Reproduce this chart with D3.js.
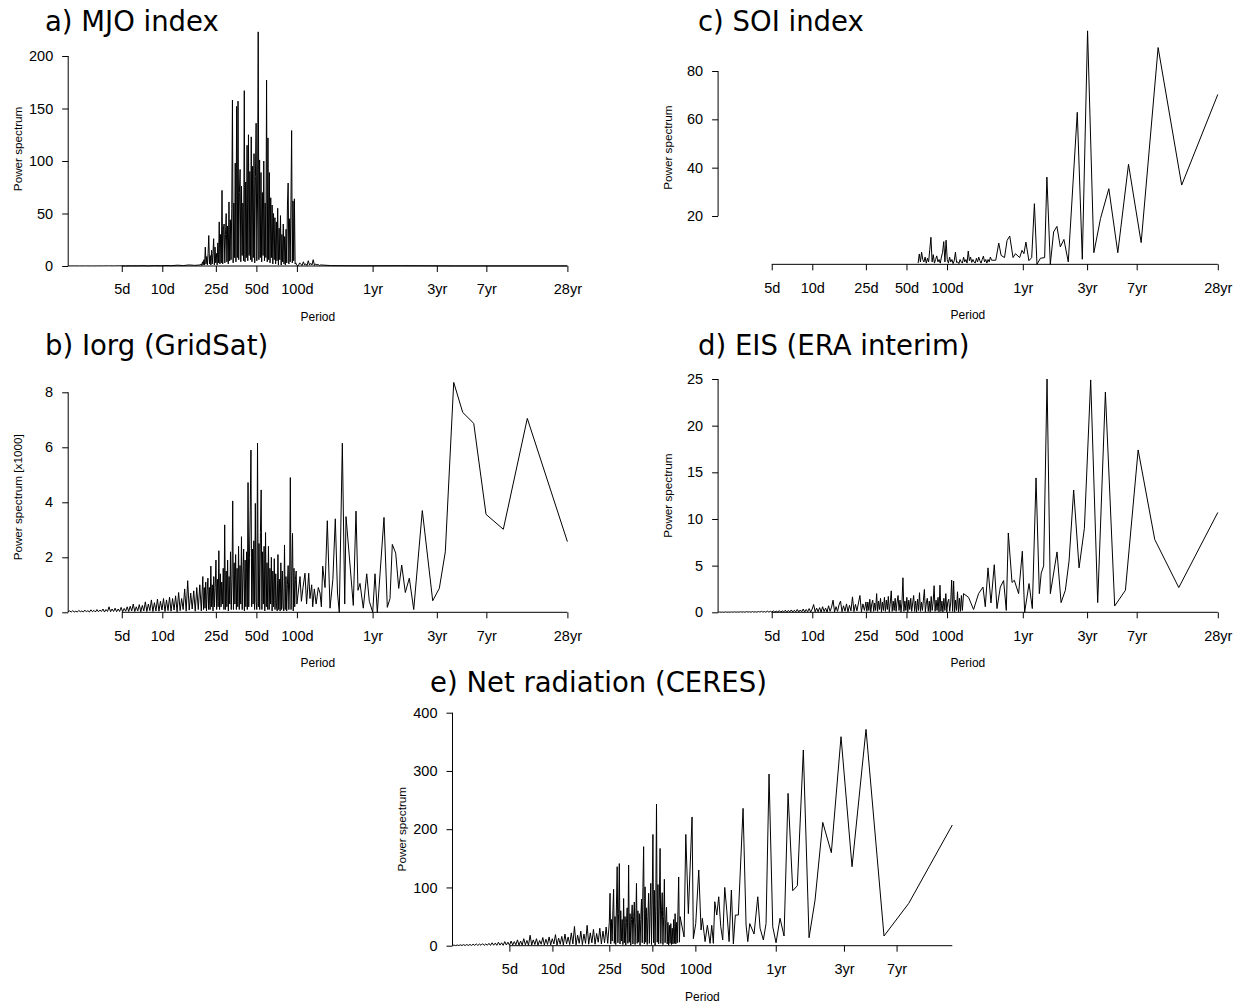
<!DOCTYPE html>
<html><head><meta charset="utf-8">
<script src="https://cdn.jsdelivr.net/npm/d3@7"></script>
<style>body{margin:0;background:#fff} svg{display:block}</style>
</head><body>
<svg id="chart" width="1238" height="1005"></svg>
<script>
// ---------------- data ----------------
const xTickDays = [5, 10, 25, 50, 100, 365, 1095, 2555, 10220];
const xTickLabels = ["5d", "10d", "25d", "50d", "100d", "1yr", "3yr", "7yr", "28yr"];

// a) MJO index
const mjoLowRange = [2, 19.2];
const mjoLowValues = [0.05,0.1,0.05,0.1,0.05,0.1,0.1,0.15,0.1,0.2,0.1,0.2,0.15,0.3,0.1,0.4,0.2,0.5,0.3,0.8,0.4,1,0.6,1];
const mjoDenseRange = [19.2, 100.5];
const mjoDenseValues = [1,2,0.5,4,1,6,1,18,2,9, 1,12,29,2,10,1,15,2,12,26, 1,18,3,12,1,22,3,42,2,30,
  3,72,2,35,40,3,30,50,4,38, 2,61,5,44,6,55,158,3,60,8, 98,4,152,8,157,6,70,92,4,76,
  10,60,5,167,4,80,8,115,5,125, 10,90,6,123,4,95,8,107,3,85, 136,5,60,223,6,101,8,89,4,70,
  10,100,5,60,8,177,4,122,6,89, 3,65,8,58,2,50,6,46,2,42, 5,55,1,36,6,48,1,30,4,40,
  2,28,1,35,3,58,79,2,45,4, 58,129,3,62,5,64,2,3,1,0.5];
const mjoTailRange = [100.5, 150];
const mjoTailValues = [2,0.5,3,1.5,0.5,4,1,2,0.5,5,1,2.5,1,6,0.5,2,1,1.5,0.5,1];
const mjoSparsePeriods = [180, 300, 600, 1500, 10220];
const mjoSparseValues = [0.4, 0.2, 0.3, 0.1, 0.1];

// b) Iorg (GridSat), x1000
const iorgLowRange = [2, 20];
const iorgLowValues = [0.02,0.05,0.01,0.06,0.01,0.04,0.01,0.07,0.02,0.05, 0.01,0.08,0.02,0.06,0.01,0.09,0.02,0.07,0.01,0.1,
  0.02,0.08,0.03,0.12,0.01,0.1,0.03,0.2,0.02,0.12, 0.03,0.15,0.02,0.12,0.03,0.18,0.02,0.14,0.04,0.2,
  0.03,0.22,0.05,0.3,0.03,0.2,0.05,0.28,0.02,0.25, 0.05,0.38,0.03,0.3,0.06,0.45,0.03,0.35,0.05,0.48,
  0.04,0.4,0.08,0.5,0.03,0.45,0.06,0.55,0.04,0.5, 0.08,0.6,0.02,0.72,0.06,0.5,0.1,0.85,0.04,1.15,
  0.08,0.7,0.12,0.78,0.04,0.9,0.1,1.0,0.05,1.3];
const iorgDenseRange = [20, 100];
const iorgDenseValues = [1.58,0.1,0.9,0.15,1.1,0.05,0.8,1.24,0.1,0.9, 0.1,1.68,0.2,1.0,0.05,1.3,0.2,0.9,1.9,0.1,
  1.2,0.2,2.24,0.1,1.4,0.2,1.1,0.3,1.6,0.1, 3.18,0.1,1.5,0.2,1.9,0.05,1.3,0.3,2.2,0.1,
  1.2,4.05,0.1,1.8,0.3,2.1,0.1,1.6,0.2,2.4, 0.1,1.7,0.3,2.75,0.1,1.4,2.3,0.05,1.9,0.2,
  2.2,0.1,4.72,0.2,2.0,3.7,5.9,0.2,2.3,0.3, 2.6,0.1,3.96,0.4,0.1,6.15,0.2,2.5,0.1,2.9,
  4.45,0.1,2.2,0.3,2.4,0.05,2.9,0.2,1.8,0.1, 2.4,0.1,1.6,0.3,2.0,0.05,1.5,0.2,1.95,0.1,
  1.4,0.2,0.05,2.1,0.1,1.2,0.05,1.8,0.1,1.5, 0.2,0.05,2.45,0.1,1.3,0.05,1.0,1.7,0.1,1.1,
  4.9,0.1,1.5,2.87,0.05,1.6,0.2,1.2,1.5,0.3];
const iorgSparsePeriods = [105.5,108,111,114.8,118,122.4,125,128.8,131,134.7,139,144.2,148.5,152,155.5,161.8,168.2,176.2,185,192.9,
  200.3,206.5,217.5,226.6,231.7,248.1,262.4,274.8,284.3,294.2,311.3,330.1,345.1,365.7,380.4,395.7,443.7,469.4,491.6,511.4,
  542,570.6,600.6,638.9,684,737.6,854.3,1020.7,1142.7,1266.3,1462,1705,2059,2541,3415,5148,10220];
const iorgSparseValues = [1.3,0.4,0.9,1.42,0.3,1.42,0.5,1.0,0.2,0.85,0.3,0.9,0.7,0.2,1.68,0.9,3.33,0.15,1.2,3.4,
  0.7,0,6.15,0.3,3.48,1.72,0.25,3.68,0.8,1.05,0.15,1.4,0.4,0,1.4,0,3.45,0.18,0.5,2.47,
  2.15,0.87,1.72,0.72,1.24,0.1,3.7,0.42,0.87,2.2,8.36,7.27,6.87,3.56,3.02,7.05,2.57];

// c) SOI index
const soiDenseRange = [61, 214];
const soiDenseValues = [0.5,4.3,1,5,2,1,3,0.5,2.5,1, 6,11.2,1,4,0.5,2,3.5,1,2,0.5, 3,5,9.4,1,10,2,0.5,3,1,2,
  0.3,1.5,5,0.8,1,0.3,2,1,0.5,3, 1,2,0.5,5.5,1.5,3,0.8,2,1,0.5, 2.5,1,3,1.5,0.5,2,3.4,1,2,0.5, 2,1,3,1.7];
const soiSparsePeriods = [230,242,252,267,279,292,309,322,346,360,372,385,405,425,445,465,493,530,551,584,
  618,654,693,737,794,926,1009,1104,1229,1378,1588,1851,2222,2759,3686,5513,10220];
const soiSparseValues = [1.7,8.8,3.7,2.8,9.9,11.7,2.8,4.4,2.8,5.8,4.4,9.2,1.5,2.8,25.1,0,2.5,2.8,36.1,0,
  13.4,15.7,7.2,10.3,1,62.9,2.1,96.6,4.8,19,31.3,4.8,41.4,9,89.7,32.8,70.3];

// d) EIS (ERA interim)
const eisLowRange = [2, 25];
const eisLowValues = [0.01,0.03,0.01,0.02,0.01,0.04,0.01,0.03,0.01,0.04, 0.01,0.05,0.01,0.04,0.01,0.06,0.02,0.05,0.01,0.07,
  0.02,0.06,0.01,0.08,0.02,0.06,0.01,0.09,0.02,0.1, 0.02,0.08,0.01,0.12,0.02,0.1,0.03,0.15,0.02,0.12,
  0.03,0.18,0.02,0.15,0.04,0.22,0.02,0.2,0.04,0.25, 0.03,0.22,0.05,0.3,0.03,0.25,0.05,0.35,0.03,0.3,
  0.06,0.4,0.03,0.35,0.83,0.05,0.45,0.06,0.5,0.03, 0.6,0.08,0.45,0.03,0.7,0.1,0.55,1.3,0.05,0.6,
  0.1,0.8,1.2,0.06,0.7,0.12,0.9,0.05,0.75,0.15, 1.65,0.08,0.85,0.15,1.0,1.8,0.06,0.9,0.2,1.1];
const eisDenseRange = [25, 130];
const eisDenseValues = [2.2,0.1,1.1,0.2,1.4,0.05,0.9,1.3,0.1,1.0, 0.2,2.0,0.1,1.2,0.3,1.5,0.05,1.1,0.2,1.6,
  0.1,1.3,0.3,1.7,0.05,1.0,2.3,0.1,1.2,0.2, 1.5,0.1,1.1,1.8,0.2,1.3,0.05,1.0,3.7,0.1,
  1.2,0.2,1.6,0.05,1.3,0.3,1.5,0.1,1.0,1.8, 0.1,1.2,0.05,1.4,0.2,2.1,0.1,1.1,0.2,1.3,
  2.45,0.05,1.0,1.5,0.1,1.2,0.05,1.7,0.2,1.1, 2.85,0.1,1.3,0.2,1.6,0.05,2.9,0.1,1.2,0.05,
  1.5,0.2,2.0,0.05,1.1,1.4,0.1,1.0,3.45,0.1, 3.35,0.05,1.3,0.2,2.2,0.05,1.5,0.1,1.8,0.2];
const eisSparsePeriods = [132.6,144.5,157.4,171.4,184.8,192.2,201.4,211.9,224.2,234.8,248.5,262.9,275.3,284.9,303.6,315.8,339.8,362.1,376.6,406.1,
  429.5,457.7,484.2,500,521.2,552.3,584.4,655.3,702,755.2,804.5,870.6,954.8,1045.4,1164.6,1312.6,1497,1755,2108,2620,3480,5248,10220];
const eisSparseValues = [2.0,1.6,0.3,2.0,2.7,0.6,4.76,1.0,5.1,0.4,2.7,3.4,0.2,8.5,3.2,3.43,2.0,6.55,0,3.08,
  0.4,14.4,2.0,4.2,4.97,25,2.0,6.47,1.04,2.36,5.5,13.1,4.76,9.0,24.9,1.04,23.6,0.68,2.36,17.4,7.8,2.65,10.7];

// e) Net radiation (CERES)
const ceresLowRange = [2, 25];
const ceresLowValues = [0.3,1,0.2,1.2,0.3,1.5,0.4,1.8,0.3,2, 0.5,2.2,0.4,2.5,0.6,3,0.5,2.8,0.7,3.5,
  0.6,3,0.8,4,0.5,5,0.8,4.5,0.6,6, 1,5,0.6,7,1.2,6,0.8,8,1.2,7, 1.5,10,0.8,8,1.2,12,1.5,9,0.8,18,
  1.2,10,2,12,0.8,9,2.5,14,1.2,11, 2,15,1.5,12,3,19,1.2,13,2.5,16, 1.5,20,3,15,2,22,3,33,1.5,18,
  4,25,2,20,4,35,2.5,22,5,28, 2.5,21,6,30,3,25,5,32,4,40];
const ceresDenseRange = [25, 78.2];
const ceresDenseValues = [5,90,3,45,8,60,96.7,4,50,2, 70,135.6,5,55,141,3,60,8,45,2,
  81,5,50,1,40,65,4,138.5,6,55, 1,45,70,3,50,75,2,40,107,4, 60,6,55,1,45,80,5,100,170,3,
  101,6,65,2,50,90,4,60,107,2, 80,191,5,95,1,70,243,6,105,3, 80,167,4,60,91,2,50,114,5,45,
  66,3,40,1,35,4,38,2,30,3, 45,4,55,3,40,5,60,118,6,50];
const ceresSparsePeriods = [83.4,85.7,89.3,94.8,96.8,100.6,105.6,109.6,111.9,116.9,121.3,126.7,130.2,133.6,136.7,141.2,145.7,150.5,155.4,160.5,
  165.8,172.1,178.6,184.4,190.4,199.8,215.6,226.3,232.6,240.2,257.3,273.2,283.5,298.9,312.2,327.6,347.7,366.7,391.1,417.2,
  445,479.9,516.9,569.1,624.1,687.4,778.1,893.4,1044.5,1247,1562,2087,3108,6270];
const ceresSparseValues = [15,191,55,221,12,38,130,27,47,7,35,4,35,4,75.5,52.6,84,32.6,10,100,
  61,7,95.6,3,52.6,52.6,235.8,35.5,7,38,20,84,30,10,38,294.7,32.6,5,47,16.6,
  261.5,94.4,103,336,13.7,78.4,211.7,159.7,358.8,135.6,371.4,16.6,72.7,207.2];

// ---------------- helpers ----------------
function segment(range, values) {
  const la = Math.log(range[0]), lb = Math.log(range[1]), n = values.length;
  return values.map((v, i) => [Math.exp(la + (lb - la) * i / (n - 1)), v]);
}
function pairs(periods, values) { return periods.map((p, i) => [p, values[i]]); }

const mjoSeries = [...segment(mjoLowRange, mjoLowValues), ...segment(mjoDenseRange, mjoDenseValues).slice(1),
  ...segment(mjoTailRange, mjoTailValues).slice(1), ...pairs(mjoSparsePeriods, mjoSparseValues)];
const iorgSeries = [...segment(iorgLowRange, iorgLowValues), ...segment(iorgDenseRange, iorgDenseValues).slice(1),
  ...pairs(iorgSparsePeriods, iorgSparseValues)];
const soiSeries = [...segment(soiDenseRange, soiDenseValues), ...pairs(soiSparsePeriods, soiSparseValues)];
const eisSeries = [...segment(eisLowRange, eisLowValues), ...segment(eisDenseRange, eisDenseValues).slice(1),
  ...pairs(eisSparsePeriods, eisSparseValues)];
const ceresSeries = [...segment(ceresLowRange, ceresLowValues), ...segment(ceresDenseRange, ceresDenseValues).slice(1),
  ...pairs(ceresSparsePeriods, ceresSparseValues)];

// ---------------- layout ----------------
const panels = [
  {title: "a) MJO index", tx: 45, ty: 31, xr: [68.2, 567.4], xd: [2, 10220],
   yd: [0, 200], yr: [266, 56], yTop: 223, yTicks: [0, 50, 100, 150, 200], ylab: "Power spectrum", ylx: 18, series: mjoSeries},
  {title: "b) Iorg (GridSat)", tx: 45, ty: 355, xr: [68.2, 567.4], xd: [2, 10220],
   yd: [0, 8], yr: [612.3, 392.3], yTop: 8.36, yTicks: [0, 2, 4, 6, 8], ylab: "Power spectrum [x1000]", ylx: 18, series: iorgSeries},
  {title: "c) SOI index", tx: 698, ty: 31, xr: [718.1, 1217.8], xd: [2, 10220],
   yd: [20, 80], yr: [216, 71], yTop: 96.6, yTicks: [20, 40, 60, 80], ylab: "Power spectrum", ylx: 668, series: soiSeries},
  {title: "d) EIS (ERA interim)", tx: 698, ty: 355, xr: [718.1, 1217.8], xd: [2, 10220],
   yd: [0, 25], yr: [612.3, 379], yTop: 25, yTicks: [0, 5, 10, 15, 20, 25], ylab: "Power spectrum", ylx: 668, series: eisSeries},
  {title: "e) Net radiation (CERES)", tx: 430, ty: 692, xr: [452.5, 952.3], xd: [2, 6270],
   yd: [0, 400], yr: [945.7, 712.7], yTop: 400, yTicks: [0, 100, 200, 300, 400], ylab: "Power spectrum", ylx: 402, series: ceresSeries}
];

const svg = d3.select("#chart");
const tickFont = "Liberation Sans, Arial, Helvetica, sans-serif";

panels.forEach(p => {
  const x = d3.scaleLog().domain(p.xd).range(p.xr);
  const y = d3.scaleLinear().domain(p.yd).range(p.yr);
  const y0 = y(0);
  const g = svg.append("g");

  // title
  g.append("text").attr("x", p.tx).attr("y", p.ty)
    .attr("font-family", "DejaVu Sans, sans-serif").attr("font-size", 27.5).attr("fill", "#000")
    .text(p.title);

  // data line
  const line = d3.line().x(d => x(d[0])).y(d => y(d[1]));
  g.append("path").datum(p.series).attr("d", line)
    .attr("fill", "none").attr("stroke", "#000").attr("stroke-width", 1).attr("stroke-linejoin", "miter");

  // x axis
  const ticksIn = xTickDays.filter(d => d <= p.xd[1] * 1.0001);
  const xAxis = d3.axisBottom(x).tickValues(ticksIn)
    .tickFormat(d => xTickLabels[xTickDays.indexOf(d)]).tickSize(6).tickPadding(12);
  const gx = g.append("g").attr("transform", `translate(0,${y0})`).call(xAxis);
  gx.select(".domain").remove();
  gx.append("line").attr("x1", x(xTickDays[0])).attr("x2", p.xr[1]).attr("y1", 0).attr("y2", 0)
    .attr("stroke", "#000");
  gx.selectAll("text").attr("font-family", tickFont).attr("font-size", 14.5).attr("fill", "#000");

  // y axis
  const yAxis = d3.axisLeft(y).tickValues(p.yTicks).tickSize(6).tickPadding(9);
  const gy = g.append("g").attr("transform", `translate(${p.xr[0]},0)`).call(yAxis);
  gy.select(".domain").remove();
  gy.append("line").attr("x1", 0).attr("x2", 0)
    .attr("y1", y(p.yTicks[0])).attr("y2", y(p.yTicks[p.yTicks.length - 1])).attr("stroke", "#000");
  gy.selectAll("text").attr("font-family", tickFont).attr("font-size", 14.5).attr("fill", "#000");

  // axis titles
  const cx = (p.xr[0] + p.xr[1]) / 2;
  g.append("text").attr("x", cx).attr("y", y0 + 55).attr("text-anchor", "middle")
    .attr("font-family", tickFont).attr("font-size", 12).text("Period");
  const cy = (y0 + y(p.yTop)) / 2;
  g.append("text").attr("transform", `translate(${p.ylx},${cy}) rotate(-90)`)
    .attr("text-anchor", "middle").attr("dy", "0.35em")
    .attr("font-family", tickFont).attr("font-size", 11.7).text(p.ylab);
});
</script>
</body></html>
